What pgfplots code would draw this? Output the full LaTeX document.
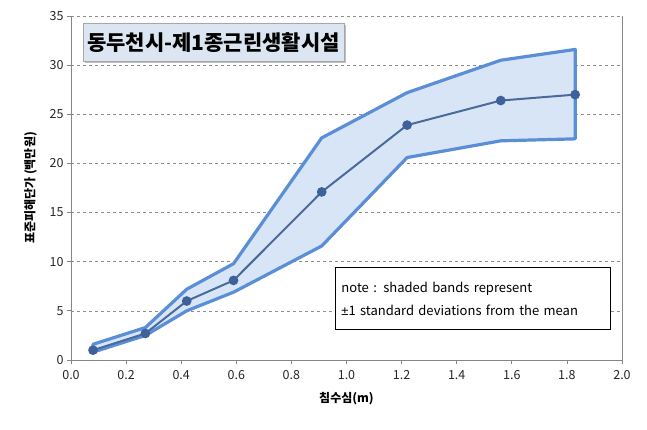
\documentclass[border=0pt]{standalone}
\usepackage{fontspec}
\setmainfont{Noto Sans CJK KR}
\newfontfamily\latinfont{Liberation Sans}
\usepackage{pgfplots}
\pgfplotsset{compat=1.18}
\usetikzlibrary{shadows}
\definecolor{bandfill}{HTML}{D8E5F7}
\definecolor{bandline}{HTML}{5A8ED6}
\definecolor{meanline}{HTML}{4A6A9A}
\definecolor{meanmark}{HTML}{3E6199}
\definecolor{axisgray}{HTML}{868686}
\definecolor{gridgray}{HTML}{8C8C8C}
\definecolor{titlefill}{HTML}{DCE6F2}
\begin{document}
\begin{tikzpicture}[x=1pt,y=1pt]
\useasboundingbox (-71,-69) rectangle (576,360);
\begin{axis}[
  at={(0,0)}, anchor=south west,
  scale only axis, width=551pt, height=344pt,
  xmin=0, xmax=2, ymin=0, ymax=35,
  xtick={0,0.2,0.4,0.6,0.8,1.0,1.2,1.4,1.6,1.8,2.0},
  ytick={0,5,10,15,20,25,30,35},
  /pgf/number format/assume math mode=true,
  tick label style={font=\fontsize{12.5}{14}\selectfont, text=black!85},
  xticklabel style={yshift=-3pt, /pgf/number format/.cd, fixed, fixed zerofill, precision=1},
  axis line style={axisgray, line width=0.8pt},
  axis x line*=bottom, axis y line*=left,
  tick align=outside, major tick length=4pt,
  tick style={axisgray, line width=0.8pt},
  xtick pos=bottom, ytick pos=left,
  ymajorgrids, grid style={gridgray, dashed, line width=0.6pt},
  xlabel={\bfseries 침수심(m)},
  ylabel={\bfseries 표준피해단가 (백만원)},
  xlabel style={font=\fontsize{12}{14}\selectfont, yshift=-6pt},
  ylabel style={font=\fontsize{12}{14}\selectfont, yshift=6pt},
  clip=false,
]
% band polygon: upper (left to right), then lower (right to left)
\addplot[fill=bandfill, draw=bandline, line width=3.2pt, line join=round] coordinates {
  (0.08,1.6) (0.27,3.3) (0.42,7.2) (0.59,9.8) (0.91,22.6) (1.22,27.2) (1.56,30.5) (1.83,31.6)
  (1.83,22.5) (1.56,22.3) (1.22,20.6) (0.91,11.6) (0.59,6.9) (0.42,5.0) (0.27,2.5) (0.08,0.8)
} -- cycle;
% mean
\addplot[meanline, line width=2pt, mark=*, mark size=3.8pt, mark options={fill=meanmark, draw=meanmark}] coordinates {
  (0.08,1.0) (0.27,2.7) (0.42,6.0) (0.59,8.1) (0.91,17.1) (1.22,23.9) (1.56,26.4) (1.83,27.0)
};
\draw[axisgray, line width=0.8pt] (rel axis cs:1,0) -- (rel axis cs:1,1);
\end{axis}
% title box
\node[draw=gray!70, fill=titlefill, drop shadow={shadow xshift=2pt, shadow yshift=-2pt, opacity=0.5},
      anchor=north west, minimum width=254pt, minimum height=38pt, inner sep=4pt,
      font=\fontsize{21}{24}\selectfont\bfseries]
  at (12,337) {동두천시-제1종근린생활시설};
% note box
\node[draw=black, fill=white, line width=0.9pt, anchor=north west, minimum width=275pt, minimum height=62pt,
      align=left, text width=263pt, font=\fontsize{13}{23}\selectfont, inner sep=6pt]
  at (264,93) {note : shaded bands represent\\{\latinfont ±}1 standard deviations from the mean};
\end{tikzpicture}
\end{document}
